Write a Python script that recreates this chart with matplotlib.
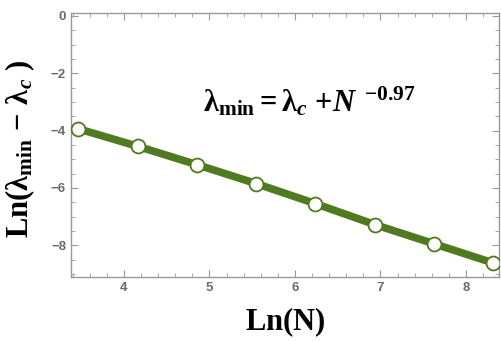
import numpy as np
import matplotlib
matplotlib.use("Agg")
from matplotlib import pyplot as plt
from matplotlib.ticker import MultipleLocator

lnN = [3.466, 4.159, 4.852, 5.545, 6.238, 6.931, 7.625, 8.318]
ln_gap = [-3.94, -4.55, -5.19, -5.85, -6.55, -7.28, -7.95, -8.62]

plt.rcParams['mathtext.fontset'] = 'custom'
plt.rcParams['mathtext.rm'] = 'Liberation Serif:bold'
plt.rcParams['mathtext.bf'] = 'Liberation Serif:bold'
plt.rcParams['mathtext.it'] = 'Liberation Serif:bold:italic'

fig = plt.figure(figsize=(5.02, 3.41), dpi=100)
ax = fig.add_axes([0.1414, 0.1877, 0.8526, 0.7742])

green = '#4f7a1f'
ax.plot(lnN, ln_gap, c=green, lw=5.5, marker='o', ms=10,
        mfc='white', mec=green, mew=1.3, zorder=3)

ax.set_xlim(3.38, 8.386)
ax.set_ylim(-9.11, 0.10)
ax.xaxis.set_major_locator(MultipleLocator(1))
ax.xaxis.set_minor_locator(MultipleLocator(0.2))
ax.yaxis.set_major_locator(MultipleLocator(2))
ax.yaxis.set_minor_locator(MultipleLocator(0.5))

grey = '#999999'
for s in ax.spines.values():
    s.set_color(grey)
    s.set_linewidth(1.0)
ax.tick_params(which='both', direction='in', top=True, right=True, color=grey)
ax.tick_params(which='major', length=5, labelsize=9.5, labelcolor='#6a6a6a')
ax.tick_params(which='minor', length=3)
for lab in ax.get_xticklabels() + ax.get_yticklabels():
    lab.set_fontfamily('Liberation Sans')
    lab.set_fontweight('bold')

ax.set_xlabel(r'$\mathrm{Ln(N)}$', fontsize=22, labelpad=8)
ax.set_ylabel(r'$\mathrm{Ln(\lambda_{min}}\,-\,\mathrm{\lambda}_{c}\ )$', fontsize=22)
ax.yaxis.set_label_coords(-0.079, 0.485)

ax.text(0.308, 0.625, r'$\mathrm{\lambda_{min}}{=}\mathrm{\lambda}_{c}\ {+}N^{\ \,{-}0.97}$',
        transform=ax.transAxes, fontsize=22, ha='left', va='baseline')

plt.savefig('out.png', dpi=100)
